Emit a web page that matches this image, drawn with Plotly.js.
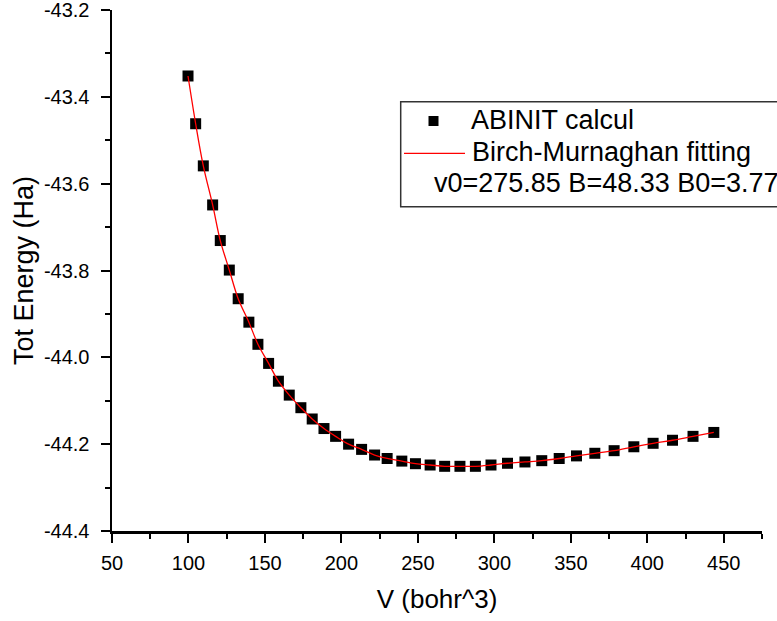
<!DOCTYPE html>
<html>
<head>
<meta charset="utf-8">
<script src="https://cdn.plot.ly/plotly-3.0.1.min.js"></script>
<style>html,body{margin:0;padding:0;background:#fff;}#chart{width:777px;height:621px;}</style>
</head>
<body>
<div id="chart"></div>
<script>
// Volume (bohr^3) of each ABINIT calculation
const volume = [99.7, 104.7, 109.7, 115.8, 120.8, 126.7, 132.5, 139.5, 145.4, 152.4,
  158.8, 165.9, 173.5, 180.9, 188.6, 196.2, 204.7, 213.2, 221.7, 229.9,
  239.5, 248.4, 258.0, 267.5, 277.5, 287.6, 297.8, 308.6, 320.0, 331.0,
  342.4, 353.7, 365.7, 378.3, 391.2, 403.8, 416.5, 429.9, 443.5];
// Total energy (Ha) from ABINIT
const energy = [-43.352, -43.462, -43.559, -43.649, -43.731, -43.799, -43.865, -43.919, -43.970, -44.014,
  -44.055, -44.087, -44.116, -44.142, -44.164, -44.182, -44.200, -44.212, -44.225, -44.233,
  -44.239, -44.245, -44.248, -44.251, -44.251, -44.251, -44.248, -44.244, -44.241, -44.238,
  -44.233, -44.227, -44.221, -44.215, -44.206, -44.198, -44.191, -44.182, -44.173];
// Birch-Murnaghan fit curve (passes through the points)
const fitVolume = volume.slice();
const fitEnergy = energy.slice();

// Tick values and labels
const xTickVals = [50, 100, 150, 200, 250, 300, 350, 400, 450];
const yTickVals = [-44.4, -44.2, -44.0, -43.8, -43.6, -43.4, -43.2];
const yTickText = ["-44.4", "-44.2", "-44.0", "-43.8", "-43.6", "-43.4", "-43.2"];

const legendNames = ["ABINIT calcul", "Birch-Murnaghan fitting"];
const fitParams = "v0=275.85 B=48.33 B0=3.77";
const xTitle = "V (bohr^3)";
const yTitle = "Tot Energy (Ha)";

const FONT = "'Liberation Sans', Arial, sans-serif";

const traces = [
  {x: volume, y: energy, type: 'scatter', mode: 'markers', name: legendNames[0],
   marker: {symbol: 'square', size: 11, color: '#000', line: {width: 0}}, showlegend: false, cliponaxis: false},
  {x: fitVolume, y: fitEnergy, type: 'scatter', mode: 'lines', name: legendNames[1],
   line: {color: '#ff0000', width: 1.3, shape: 'spline'}, showlegend: false}
];

// pixel -> paper helpers (plot area: x 112..762, y 10..531)
const L = 112, R = 15, T = 10, B = 90, W = 777, H = 621;
const pw = W - L - R, ph = H - T - B;
const px = X => (X - L) / pw;
const py = Y => (H - B - Y) / ph;

const layout = {
  width: W, height: H,
  margin: {l: L, r: R, t: T, b: B, pad: 0},
  paper_bgcolor: '#fff', plot_bgcolor: '#fff',
  showlegend: false,
  font: {family: FONT, color: '#000'},
  xaxis: {
    range: [50, 475], tickmode: 'array', tickvals: xTickVals,
    showgrid: false, zeroline: false,
    showline: true, linecolor: '#000', linewidth: 2.5,
    ticks: 'outside', ticklen: 9, tickwidth: 2, tickcolor: '#000',
    minor: {dtick: 25, tick0: 50, ticks: 'outside', ticklen: 5, tickwidth: 2, tickcolor: '#000', showgrid: false},
    tickfont: {size: 20, family: FONT, color: '#000'},
    ticklabelstandoff: 3,
    ticklabeloverflow: 'allow',
    title: {text: xTitle, font: {size: 26, family: FONT, color: '#000'}, standoff: 18},
    automargin: false
  },
  yaxis: {
    range: [-44.4, -43.2], tickmode: 'array', tickvals: yTickVals, ticktext: yTickText,
    showgrid: false, zeroline: false,
    showline: true, linecolor: '#000', linewidth: 2.5,
    ticks: 'outside', ticklen: 9, tickwidth: 2, tickcolor: '#000',
    minor: {dtick: 0.1, tick0: -44.4, ticks: 'outside', ticklen: 5, tickwidth: 2, tickcolor: '#000', showgrid: false},
    tickfont: {size: 20, family: FONT, color: '#000'},
    ticklabelstandoff: 7,
    ticklabeloverflow: 'allow',
    title: {text: yTitle, font: {size: 27, family: FONT, color: '#000'}, standoff: 3},
    automargin: false
  },
  shapes: [
    {type: 'rect', xref: 'paper', yref: 'paper', x0: px(400.7), x1: px(820), y0: py(206.7), y1: py(101.7),
     line: {color: '#333', width: 1.5}, fillcolor: 'rgba(255,255,255,1)', layer: 'above'},
    {type: 'rect', xref: 'paper', yref: 'paper', x0: px(428.5), x1: px(438.5), y0: py(126), y1: py(116),
     line: {width: 0}, fillcolor: '#000', layer: 'above'},
    {type: 'line', xref: 'paper', yref: 'paper', x0: px(404), x1: px(465), y0: py(153.3), y1: py(153.3),
     line: {color: '#ff0000', width: 1.3}, layer: 'above'}
  ],
  annotations: [
    {xref: 'paper', yref: 'paper', x: px(469), y: py(120), xanchor: 'left', yanchor: 'middle',
     text: legendNames[0], showarrow: false, font: {size: 27, family: FONT, color: '#000'}},
    {xref: 'paper', yref: 'paper', x: px(470), y: py(152), xanchor: 'left', yanchor: 'middle',
     text: legendNames[1], showarrow: false, font: {size: 27, family: FONT, color: '#000'}},
    {xref: 'paper', yref: 'paper', x: px(432), y: py(183), xanchor: 'left', yanchor: 'middle',
     text: fitParams, showarrow: false, font: {size: 27, family: FONT, color: '#000'}}
  ]
};

Plotly.newPlot('chart', traces, layout, {staticPlot: true, displayModeBar: false});
</script>
</body>
</html>
